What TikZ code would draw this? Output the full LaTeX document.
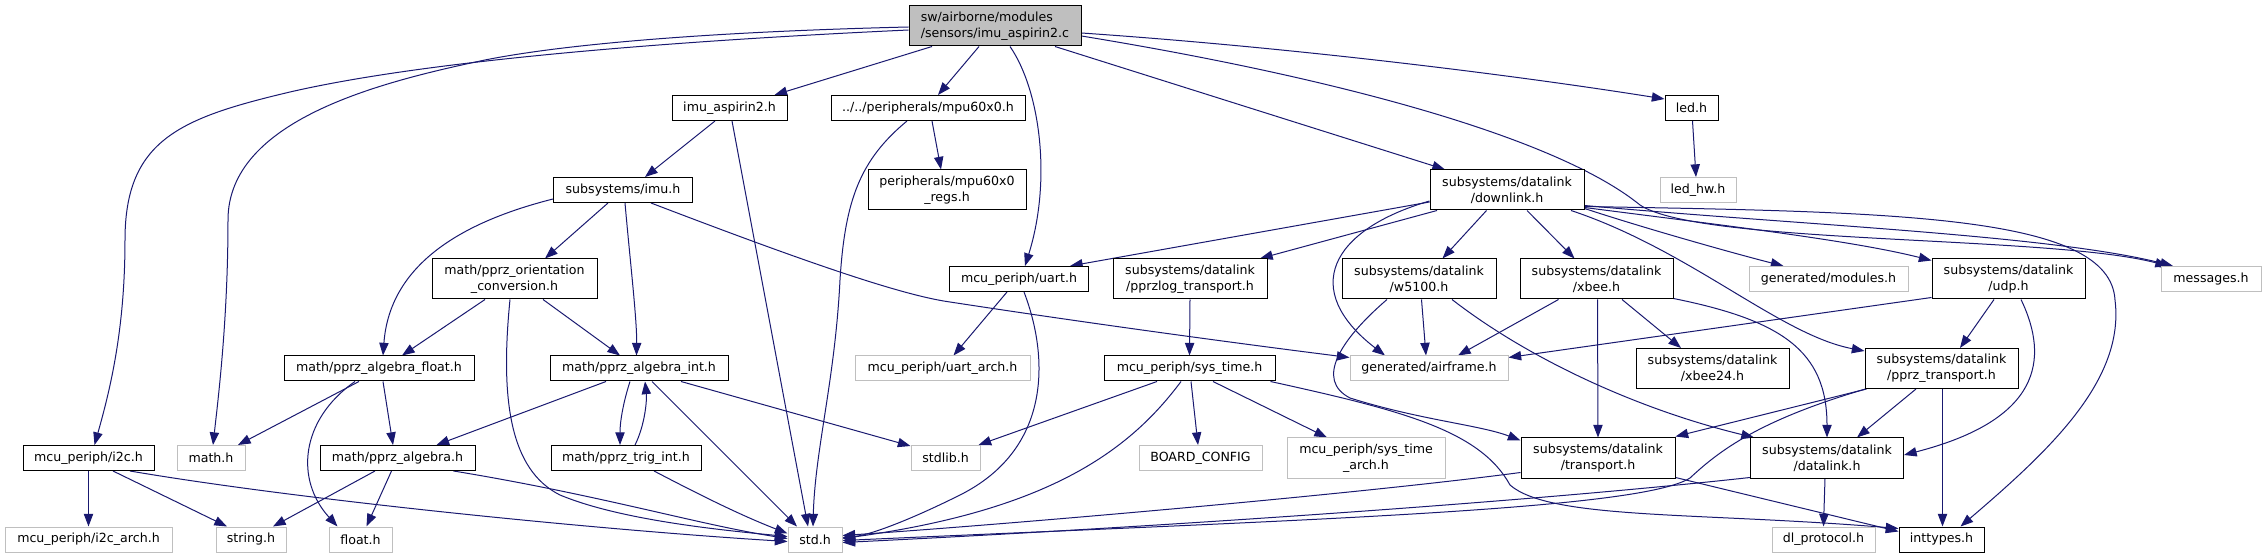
\documentclass[tikz,border=0pt]{standalone}
\usepackage{fontspec}
\newfontfamily\nodefont{DejaVu Sans}
\usetikzlibrary{arrows.meta,calc}
\definecolor{edgec}{HTML}{191970}
\definecolor{gborder}{HTML}{BFBFBF}
\definecolor{mainfill}{HTML}{BFBFBF}
\pgfdeclarelayer{bg}
\pgfsetlayers{bg,main}
\tikzset{
  nd/.style={draw=black, fill=white, line width=0.75pt, inner sep=0pt, align=center,
    font=\nodefont\fontsize{9.45pt}{11.8pt}\selectfont, text=black},
  ng/.style={nd, draw=gborder},
  bw/.style={minimum width=#1*0.75pt},
  h1/.style={minimum height=18.75pt},
  h2/.style={minimum height=30pt},
  edge/.style={draw=edgec, line width=0.75pt, -{Triangle[length=9.5pt,width=7pt]}},
}
\begin{document}
\begin{tikzpicture}[x=0.75pt,y=-0.75pt]
\useasboundingbox (0,0) rectangle (2267,559);
% nodes
\node[nd,bw=172,h2,fill=mainfill,align=left] (main) at (995,26) {sw/airborne/modules\\/sensors/imu\_aspirin2.c};
\node[nd,bw=115,h1] (imu2) at (729.5,108) {imu\_aspirin2.h};
\node[nd,bw=194,h1] (mpu) at (928,108) {../../peripherals/mpu60x0.h};
\node[nd,bw=53,h1] (led) at (1691.5,108) {led.h};
\node[nd,bw=158,h2] (regs) at (947,190) {peripherals/mpu60x0\\\_regs.h};
\node[nd,bw=139,h1] (imu) at (623,190) {subsystems/imu.h};
\node[nd,bw=154,h2] (downlink) at (1507,190) {subsystems/datalink\\/downlink.h};
\node[ng,bw=76,h1] (ledhw) at (1698,190) {led\_hw.h};
\node[nd,bw=165,h2] (orient) at (514.5,279) {math/pprz\_orientation\\\_conversion.h};
\node[nd,bw=139,h1] (uart) at (1019,279) {mcu\_periph/uart.h};
\node[nd,bw=154,h2] (pprzlog) at (1190,279) {subsystems/datalink\\/pprzlog\_transport.h};
\node[nd,bw=154,h2] (w5100) at (1419,279) {subsystems/datalink\\/w5100.h};
\node[nd,bw=153,h2] (xbee) at (1596.5,279) {subsystems/datalink\\/xbee.h};
\node[ng,bw=159,h1] (modules) at (1828.5,279) {generated/modules.h};
\node[nd,bw=153,h2] (udp) at (2008.5,279) {subsystems/datalink\\/udp.h};
\node[ng,bw=100,h1] (messages) at (2211,279) {messages.h};
\node[nd,bw=190,h1] (afloat) at (379,368.5) {math/pprz\_algebra\_float.h};
\node[nd,bw=178,h1] (aint) at (639,368.5) {math/pprz\_algebra\_int.h};
\node[ng,bw=175,h1] (uartarch) at (942.5,368.5) {mcu\_periph/uart\_arch.h};
\node[nd,bw=171,h1] (systime) at (1189.5,368.5) {mcu\_periph/sys\_time.h};
\node[ng,bw=158,h1] (airframe) at (1429,368.5) {generated/airframe.h};
\node[nd,bw=153,h2] (xbee24) at (1712.5,368.5) {subsystems/datalink\\/xbee24.h};
\node[nd,bw=153,h2] (pprzt) at (1941.5,368.5) {subsystems/datalink\\/pprz\_transport.h};
\node[nd,bw=131,h1] (i2c) at (88.5,458) {mcu\_periph/i2c.h};
\node[ng,bw=68,h1] (math) at (211,458) {math.h};
\node[nd,bw=155,h1] (alg) at (397.5,458) {math/pprz\_algebra.h};
\node[nd,bw=150,h1] (trig) at (626,458) {math/pprz\_trig\_int.h};
\node[ng,bw=69,h1] (stdlib) at (945.5,458) {stdlib.h};
\node[ng,bw=123,h1] (board) at (1200.5,458) {BOARD\_CONFIG};
\node[ng,bw=158,h2] (starch) at (1366,458) {mcu\_periph/sys\_time\\\_arch.h};
\node[nd,bw=154,h2] (transport) at (1598,458) {subsystems/datalink\\/transport.h};
\node[nd,bw=153,h2] (datalink) at (1827,458) {subsystems/datalink\\/datalink.h};
\node[ng,bw=167,h1] (i2carch) at (88.5,539.5) {mcu\_periph/i2c\_arch.h};
\node[ng,bw=70,h1] (string) at (251,539.5) {string.h};
\node[ng,bw=63,h1] (float) at (360.5,539.5) {float.h};
\node[ng,bw=54,h1] (std) at (815,539.5) {std.h};
\node[ng,bw=103,h1] (dlp) at (1823.5,539.5) {dl\_protocol.h};
\node[nd,bw=85,h1] (inttypes) at (1941.5,539.5) {inttypes.h};
% edges
\begin{pgfonlayer}{bg}
\fill[white] (0,0) rectangle (2267,559);
% from main
\draw[edge] ($(main.south)+(-63,0)$) -- ($(imu2.north)+(45,0)$);
\draw[edge] ($(main.south)+(-16,0)$) -- ($(mpu.north)+(10,0)$);
\draw[edge] ($(main.south)+(15,0)$) .. controls (1040,90) and (1052,180) .. ($(uart.north)+(6,0)$);
\draw[edge] ($(main.south)+(60,0)$) -- ($(downlink.north)+(-62,0)$);
\draw[edge] ($(main.east)+(0,7)$) .. controls (1300,48) and (1520,76) .. ($(led.west)+(0,-9)$);
\draw[edge] ($(main.east)+(0,10)$) .. controls (1350,80) and (1560,140) .. (1640,205) .. controls (1700,245) and (2050,235) .. ($(messages.north)+(-43,0)$);
\draw[edge] ($(main.west)+(0,4)$) .. controls (650,42) and (420,62) .. (290,92) .. controls (180,118) and (125,140) .. (125,240) .. controls (125,330) and (110,390) .. ($(i2c.north)+(6,0)$);
\draw[edge] ($(main.west)+(0,1)$) .. controls (700,32) and (560,45) .. (485,60) .. controls (380,82) and (228,120) .. (228,220) .. controls (228,320) and (218,400) .. ($(math.north)+(2,0)$);
% imu_aspirin2 / mpu / led
\draw[edge] ($(imu2.south)+(-14.5,0)$) -- ($(imu.north)+(22,0)$);
\draw[edge] ($(imu2.south)+(2.5,0)$) -- ($(std.north)+(-7,0)$);
\draw[edge] ($(mpu.south)+(4,0)$) -- ($(regs.north)+(-6,0)$);
\draw[edge] ($(mpu.south)+(-21,0)$) .. controls (860,160) and (845,200) .. (840,280) .. controls (835,380) and (815,450) .. ($(std.north)+(-2,0)$);
\draw[edge] ($(led.south)+(1,0)$) -- ($(ledhw.north)+(-2,0)$);
% imu
\draw[edge] ($(imu.south)+(-15,0)$) -- ($(orient.north)+(30.5,0)$);
\draw[edge] ($(imu.west)+(0,9)$) .. controls (470,220) and (390,260) .. ($(afloat.north)+(4,0)$);
\draw[edge] ($(imu.south)+(2,0)$) .. controls (630,260) and (637,320) .. ($(aint.north)+(-2.5,0)$);
\draw[edge] ($(imu.south)+(28,0)$) .. controls (800,260) and (900,295) .. (950,302) .. controls (1100,325) and (1250,345) .. ($(airframe.north west)+(0,2)$);
% orientation conversion
\draw[edge] ($(orient.south)+(-29.5,0)$) -- ($(afloat.north)+(23,0)$);
\draw[edge] ($(orient.south)+(28.5,0)$) -- ($(aint.north)+(-19,0)$);
\draw[edge] ($(orient.south)+(-4.5,0)$) .. controls (500,400) and (510,470) .. (560,495) .. controls (620,520) and (720,530) .. ($(std.west)+(0,-3)$);
% algebra float
\draw[edge] ($(afloat.south)+(-20,0)$) -- ($(math.north)+(27,0)$);
\draw[edge] ($(afloat.south)+(-24,0)$) .. controls (300,420) and (295,480) .. ($(float.north)+(-23,0)$);
\draw[edge] ($(afloat.south)+(4,0)$) -- ($(alg.north)+(-4.5,0)$);
% algebra int
\draw[edge] ($(aint.south)+(-33,0)$) -- ($(alg.north)+(39,0)$);
\draw[edge] ($(aint.south)+(-9,0)$) .. controls (624,400) and (620,420) .. ($(trig.north)+(-6,0)$);
\draw[edge] ($(trig.north)+(9,0)$) .. controls (645,425) and (647,400) .. ($(aint.south)+(6,0)$);
\draw[edge] ($(aint.south)+(13,0)$) -- ($(std.north)+(-18,0)$);
\draw[edge] ($(aint.south)+(42,0)$) -- ($(stdlib.north west)+(0,1)$);
\draw[edge] ($(trig.south)+(28,0)$) .. controls (700,495) and (740,515) .. ($(std.west)+(0,-6)$);
% algebra
\draw[edge] ($(alg.south)+(-22.5,0)$) -- ($(string.north)+(22,0)$);
\draw[edge] ($(alg.south)+(-6,0)$) -- ($(float.north)+(6,0)$);
\draw[edge] ($(alg.south)+(56,0)$) .. controls (600,495) and (700,525) .. ($(std.west)+(0,-1)$);
% i2c
\draw[edge] (i2c.south) -- (i2carch.north);
\draw[edge] ($(i2c.south)+(24.5,0)$) -- ($(string.north)+(-24,0)$);
\draw[edge] ($(i2c.south)+(41.5,0)$) .. controls (300,500) and (600,530) .. ($(std.west)+(0,2)$);
% uart
\draw[edge] ($(uart.south)+(-12,0)$) -- ($(uartarch.north)+(11,0)$);
\draw[edge] ($(uart.south)+(5,0)$) .. controls (1050,360) and (1050,450) .. (960,495) .. controls (910,520) and (870,535) .. ($(std.east)+(0,-2)$);
% pprzlog / sys_time
\draw[edge] (pprzlog.south) -- (systime.north);
\draw[edge] ($(systime.south)+(-32.5,0)$) -- ($(stdlib.north east)+(-2,0)$);
\draw[edge] ($(systime.south)+(-8.5,0)$) .. controls (1130,450) and (1050,510) .. ($(std.east)+(0,-1)$);
\draw[edge] ($(systime.south)+(1.5,0)$) -- ($(board.north)+(-2.5,0)$);
\draw[edge] ($(systime.south)+(23.5,0)$) -- ($(starch.north)+(-39,0)$);
\draw[edge] ($(systime.south)+(81,0)$) .. controls (1400,410) and (1480,430) .. (1510,485) .. controls (1550,520) and (1700,512) .. ($(inttypes.north west)+(0,2)$);
% downlink
\draw[edge] ($(downlink.west)+(0,12)$) -- ($(uart.north)+(51,0)$);
\draw[edge] ($(downlink.south)+(-70,0)$) -- ($(pprzlog.north)+(70,0)$);
\draw[edge] ($(downlink.west)+(0,11)$) .. controls (1330,230) and (1300,290) .. ($(airframe.north)+(-44,0)$);
\draw[edge] ($(downlink.south)+(-20.5,0)$) -- ($(w5100.north)+(23.5,0)$);
\draw[edge] ($(downlink.south)+(20,0)$) -- ($(xbee.north)+(-22,0)$);
\draw[edge] ($(downlink.south)+(64,0)$) .. controls (1690,250) and (1780,335) .. ($(pprzt.north west)+(0,3)$);
\draw[edge] ($(downlink.south east)+(0,-2)$) .. controls (1650,230) and (1740,255) .. ($(modules.north)+(-45,0)$);
\draw[edge] ($(downlink.south east)+(0,-3)$) .. controls (1720,225) and (1850,240) .. ($(udp.north west)+(0,2)$);
\draw[edge] ($(downlink.south east)+(0,-5)$) .. controls (1800,225) and (2050,235) .. ($(messages.north)+(-38,0)$);
\draw[edge] ($(downlink.south east)+(0,-4)$) .. controls (1900,212) and (2110,215) .. (2115,300) .. controls (2125,380) and (2050,450) .. ($(inttypes.north)+(19,0)$);
% w5100
\draw[edge] ($(w5100.south)+(2.5,0)$) -- ($(airframe.north)+(-3,0)$);
\draw[edge] ($(w5100.south)+(-32,0)$) .. controls (1340,340) and (1315,380) .. (1350,398) .. controls (1420,420) and (1480,425) .. ($(transport.north west)+(0,3)$);
\draw[edge] ($(w5100.south)+(33,0)$) .. controls (1530,360) and (1640,410) .. ($(datalink.north west)+(4,0)$);
% xbee
\draw[edge] ($(xbee.south)+(-38,0)$) -- ($(airframe.north)+(29,0)$);
\draw[edge] ($(xbee.south)+(1,0)$) -- (transport.north);
\draw[edge] ($(xbee.south)+(25.5,0)$) -- ($(xbee24.north)+(-31.5,0)$);
\draw[edge] ($(xbee.south east)+(0,-1)$) .. controls (1780,320) and (1827,350) .. (datalink.north);
% udp
\draw[edge] ($(udp.south west)+(0,-2)$) -- ($(airframe.north east)+(0,2)$);
\draw[edge] ($(udp.south)+(-14.5,0)$) -- ($(pprzt.north)+(18.5,0)$);
\draw[edge] ($(udp.south)+(12.5,0)$) .. controls (2050,360) and (2040,420) .. ($(datalink.east)+(0,-3)$);
% pprz_transport
\draw[edge] ($(pprzt.south west)+(2,0)$) -- ($(transport.north east)+(0,-1)$);
\draw[edge] ($(pprzt.south)+(-25.5,0)$) -- ($(datalink.north)+(30,0)$);
\draw[edge] ($(pprzt.south)+(1,0)$) -- ($(inttypes.north)+(1,0)$);
\draw[edge] ($(pprzt.south west)+(1,0)$) .. controls (1760,420) and (1720,450) .. (1690,478) .. controls (1640,510) and (1300,520) .. ($(std.east)+(0,1)$);
% transport / datalink
\draw[edge] ($(transport.south west)+(0,-6)$) .. controls (1350,495) and (1000,525) .. ($(std.east)+(0,-4)$);
\draw[edge] ($(transport.south east)+(0,-1)$) -- ($(inttypes.north west)+(0,5)$);
\draw[edge] ($(datalink.south west)+(0,-1)$) .. controls (1500,505) and (1100,530) .. ($(std.east)+(0,3)$);
\draw[edge] ($(datalink.south)+(-2,0)$) -- (dlp.north);
\end{pgfonlayer}
\end{tikzpicture}
\end{document}
